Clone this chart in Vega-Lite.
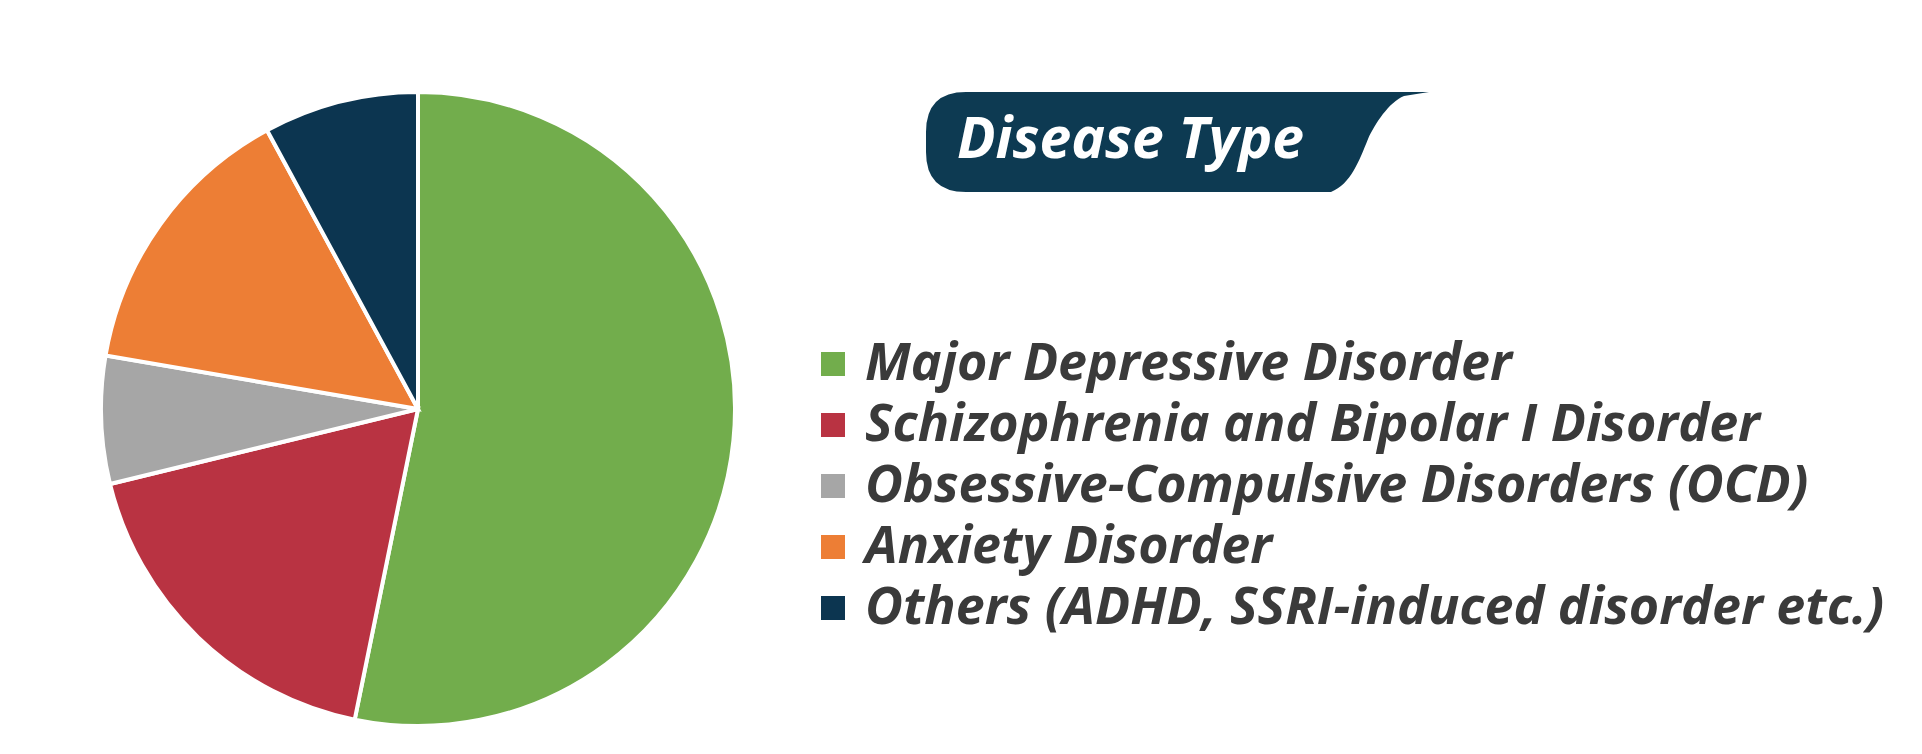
{
  "$schema": "https://vega.github.io/schema/vega-lite/v6.json",
  "background": "white",
  "padding": {"left": 93, "top": 84, "right": 0, "bottom": 0},
  "config": {"view": {"stroke": null}},
  "spacing": 183,
  "hconcat": [
    {
      "width": 634,
      "height": 634,
      "data": {
        "values": [
          {"disease": "Major Depressive Disorder", "share": 53.2, "idx": 1},
          {"disease": "Schizophrenia and Bipolar I Disorder", "share": 18.0, "idx": 2},
          {"disease": "Obsessive-Compulsive Disorders (OCD)", "share": 6.5, "idx": 3},
          {"disease": "Anxiety Disorder", "share": 14.4, "idx": 4},
          {"disease": "Others (ADHD, SSRI-induced disorder etc.)", "share": 7.9, "idx": 5}
        ]
      },
      "mark": {"type": "arc", "stroke": "white", "strokeWidth": 4},
      "encoding": {
        "theta": {"field": "share", "type": "quantitative", "stack": true},
        "order": {"field": "idx", "type": "ordinal"},
        "color": {
          "field": "disease",
          "type": "nominal",
          "scale": {
            "domain": [
              "Major Depressive Disorder",
              "Schizophrenia and Bipolar I Disorder",
              "Obsessive-Compulsive Disorders (OCD)",
              "Anxiety Disorder",
              "Others (ADHD, SSRI-induced disorder etc.)"
            ],
            "range": ["#72ad4c", "#b93342", "#a6a6a6", "#ed7e35", "#0c3550"]
          },
          "legend": {
            "orient": "none",
            "legendX": 706,
            "legendY": 246,
            "title": null,
            "padding": 0,
            "symbolType": "square",
            "symbolSize": 576,
            "symbolStrokeWidth": 0,
            "symbolOpacity": 1,
            "labelFont": "Open Sans",
            "labelFontSize": 52,
            "labelFontWeight": "bold",
            "labelFontStyle": "italic",
            "labelColor": "#3a3a3a",
            "labelLimit": 0,
            "labelOffset": 6,
            "rowPadding": 9
          }
        }
      }
    },
    {
      "width": 503,
      "height": 105,
      "data": {"values": [{"label": "Disease Type"}]},
      "layer": [
        {
          "mark": {
            "type": "point",
            "shape": "M-0.841,-0.2087 L1,-0.2087 L0.9006,-0.1928 C0.841,-0.169 0.7853,-0.0815 0.7575,-0.0219 C0.7217,0.0656 0.6899,0.1571 0.6103,0.1889 L-0.841,0.1889 Q-1,0.1889 -1,0.0298 L-1,-0.0497 Q-1,-0.2087 -0.841,-0.2087 Z",
            "size": 253009,
            "filled": true,
            "color": "#0d3a52",
            "opacity": 1,
            "strokeWidth": 0
          },
          "encoding": {}
        },
        {
          "mark": {
            "type": "text",
            "font": "Open Sans",
            "fontSize": 57,
            "fontWeight": "bold",
            "fontStyle": "italic",
            "color": "white",
            "align": "center",
            "baseline": "alphabetic",
            "dx": -47,
            "dy": 13
          },
          "encoding": {"text": {"field": "label"}}
        }
      ]
    }
  ]
}
